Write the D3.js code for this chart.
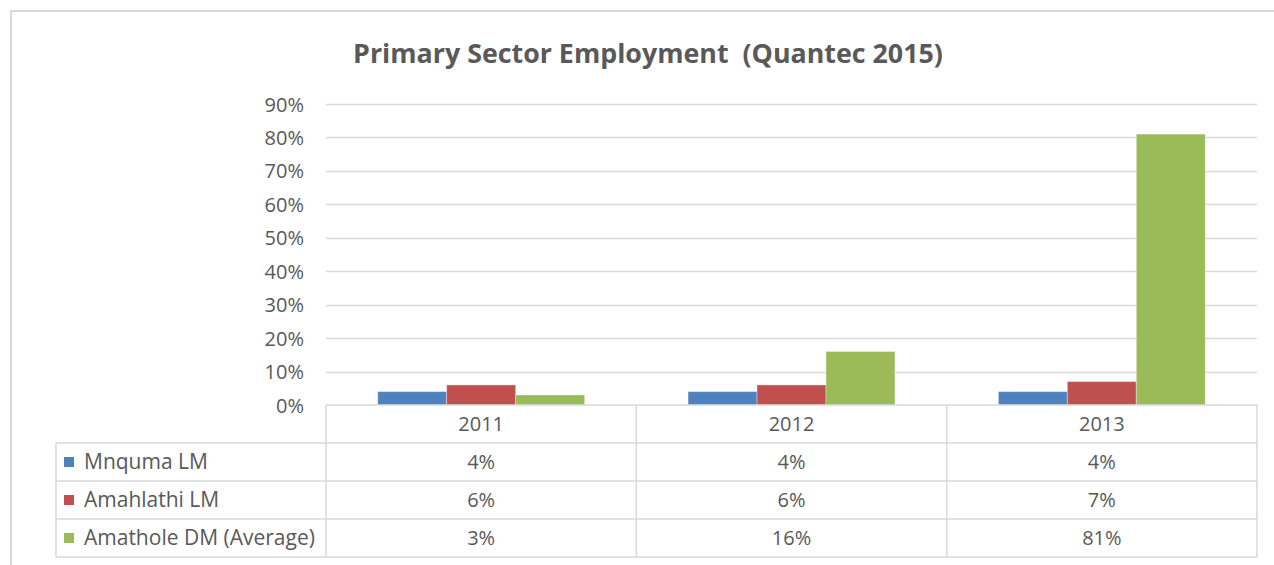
<!DOCTYPE html>
<html>
<head>
<meta charset="utf-8">
<script src="https://cdn.jsdelivr.net/npm/d3@7"></script>
<style>
  html, body { margin: 0; padding: 0; background: #ffffff; }
  svg { display: block; }
  text { font-family: "Open Sans", "Noto Sans", sans-serif; fill: #595959; }
</style>
</head>
<body>
<svg id="chart" width="1274" height="565"></svg>
<script>
// Chart data
const title = "Primary Sector Employment  (Quantec 2015)";
const years = ["2011", "2012", "2013"];
const seriesNames = ["Mnquma LM", "Amahlathi LM", "Amathole DM (Average)"];
const mnquma = [0.04, 0.04, 0.04];
const amahlathi = [0.06, 0.06, 0.07];
const amathole = [0.03, 0.16, 0.81];
const yTicks = [0, 0.1, 0.2, 0.3, 0.4, 0.5, 0.6, 0.7, 0.8, 0.9];
const seriesColors = ["#4f81bd", "#c0504d", "#9bbb59"];

const seriesValues = [mnquma, amahlathi, amathole];

const svg = d3.select("#chart");
const W = 1274, H = 565;

// Layout
const plot = { left: 326, right: 1257, top: 104, bottom: 405 };
const tableLeft = 56;
const gridColor = "#d9d9d9";
const labelSize = "20px";
const legendSize = "21px";

// Outer chart frame
svg.append("rect")
  .attr("x", 11).attr("y", 11)
  .attr("width", W + 20).attr("height", H + 20)
  .attr("fill", "none")
  .attr("stroke", "#d9d9d9")
  .attr("stroke-width", 2);

// Title
svg.append("text")
  .attr("x", 648).attr("y", 63)
  .attr("text-anchor", "middle")
  .attr("xml:space", "preserve")
  .style("white-space", "pre")
  .style("font-size", "26.8px")
  .style("font-weight", "bold")
  .text(title);

// Scales
const x = d3.scaleBand().domain(years).range([plot.left, plot.right]).padding(0);
const barW = x.bandwidth() / (seriesNames.length + 1.5);
const xInner = d3.scaleBand()
  .domain(seriesNames)
  .range([barW * 0.75, x.bandwidth() - barW * 0.75])
  .padding(0);
const y = d3.scaleLinear().domain([0, 0.9]).range([plot.bottom, plot.top]);

// Gridlines
svg.append("g")
  .selectAll("line")
  .data(yTicks.filter(d => d > 0))
  .join("line")
  .attr("x1", plot.left).attr("x2", plot.right)
  .attr("y1", d => Math.round(y(d)) + 0.5).attr("y2", d => Math.round(y(d)) + 0.5)
  .attr("stroke", gridColor)
  .attr("stroke-width", 1.3);

// Y axis labels
const yAxis = d3.axisLeft(y).tickValues(yTicks).tickFormat(d3.format(".0%")).tickSize(0).tickPadding(0);
const yAxisG = svg.append("g")
  .attr("transform", `translate(${304},0)`)
  .call(yAxis);
yAxisG.select(".domain").remove();
yAxisG.selectAll("text")
  .style("font-size", labelSize)
  .attr("fill", "#595959")
  .attr("dy", "0.35em")
  .style("font-family", "\"Open Sans\", sans-serif");

// Bars
const groups = svg.append("g")
  .selectAll("g")
  .data(years)
  .join("g")
  .attr("transform", d => `translate(${x(d)},0)`);

groups.selectAll("rect")
  .data((yr, i) => seriesNames.map((s, k) => ({ s, k, v: seriesValues[k][i] })))
  .join("rect")
  .attr("x", d => xInner(d.s))
  .attr("width", xInner.bandwidth())
  .attr("y", d => y(d.v))
  .attr("height", d => y(0) - y(d.v))
  .attr("fill", d => seriesColors[d.k])
  .attr("stroke", "rgba(255,255,255,0.35)")
  .attr("stroke-width", 1);

// Data table
const table = svg.append("g");
const rowTop = plot.bottom;
const rowsY = d3.range(5).map(i => rowTop + i * ((557 - rowTop) / 4));

// horizontal rules
table.append("line")
  .attr("x1", plot.left).attr("x2", plot.right)
  .attr("y1", rowsY[0]).attr("y2", rowsY[0])
  .attr("stroke", gridColor).attr("stroke-width", 1.5);
table.selectAll("line.h")
  .data(rowsY.slice(1))
  .join("line")
  .attr("class", "h")
  .attr("x1", tableLeft).attr("x2", plot.right)
  .attr("y1", d => d).attr("y2", d => d)
  .attr("stroke", gridColor).attr("stroke-width", 1.5);

// vertical rules
const colEdges = years.map(yr => x(yr)).concat([plot.right]);
table.selectAll("line.v")
  .data(colEdges)
  .join("line")
  .attr("class", "v")
  .attr("x1", d => d).attr("x2", d => d)
  .attr("y1", rowsY[0]).attr("y2", rowsY[4])
  .attr("stroke", gridColor).attr("stroke-width", 1.5);
table.append("line")
  .attr("x1", tableLeft).attr("x2", tableLeft)
  .attr("y1", rowsY[1]).attr("y2", rowsY[4])
  .attr("stroke", gridColor).attr("stroke-width", 1.5);

// header row: categories
table.selectAll("text.cat")
  .data(years)
  .join("text")
  .attr("class", "cat")
  .attr("x", d => x(d) + x.bandwidth() / 2)
  .attr("y", (rowsY[0] + rowsY[1]) / 2)
  .attr("dy", "0.35em")
  .attr("text-anchor", "middle")
  .style("font-size", labelSize)
  .text(d => d);

// series rows
const fmt = d3.format(".0%");
seriesNames.forEach((name, k) => {
  const cy = (rowsY[k + 1] + rowsY[k + 2]) / 2;
  table.append("rect")
    .attr("x", 64).attr("y", cy - 5)
    .attr("width", 10).attr("height", 10)
    .attr("fill", seriesColors[k]);
  table.append("text")
    .attr("x", 84).attr("y", cy)
    .attr("dy", "0.35em")
    .style("font-size", legendSize)
    .text(name);
  table.selectAll(null)
    .data(seriesValues[k])
    .join("text")
    .attr("x", (d, i) => x(years[i]) + x.bandwidth() / 2)
    .attr("y", cy)
    .attr("dy", "0.35em")
    .attr("text-anchor", "middle")
    .style("font-size", labelSize)
    .text(d => fmt(d));
});
</script>
</body>
</html>
